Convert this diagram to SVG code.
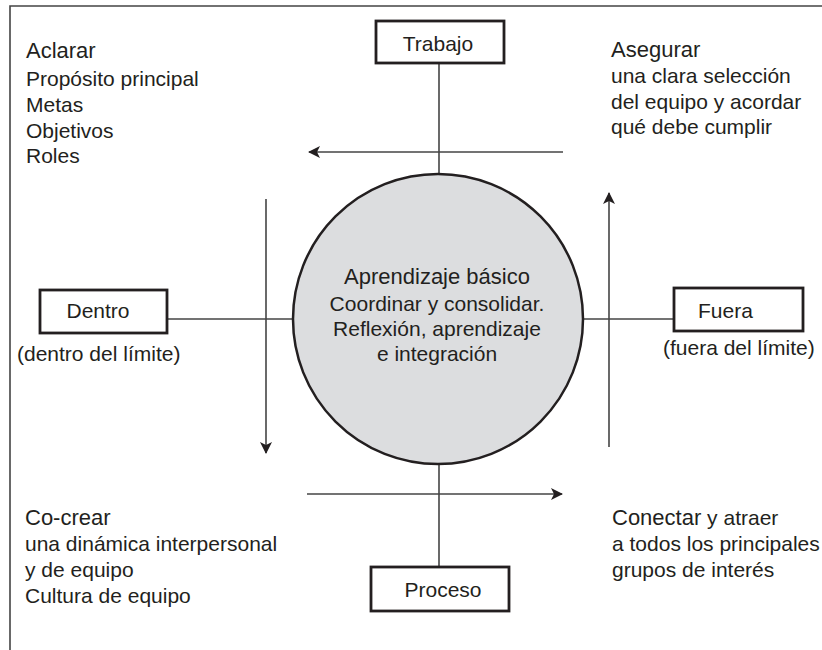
<svg xmlns="http://www.w3.org/2000/svg" width="822" height="650" viewBox="0 0 822 650">
<style>
text{font-family:"Liberation Sans",Arial,sans-serif;fill:#231f20;font-size:21px}
.h{font-size:22px}
.c{text-anchor:middle}
.box{fill:#fff;stroke:#231f20;stroke-width:2.8}
.ln{stroke:#444;stroke-width:1.6;fill:none}
</style>
<defs>
<marker id="ah" viewBox="0 0 12 12" refX="11" refY="6" markerWidth="12" markerHeight="12" markerUnits="userSpaceOnUse" orient="auto">
<path d="M0,0 L12,6 L0,12 L3,6 Z" fill="#231f20"/>
</marker>
</defs>
<g id="frame">
<path class="ln" d="M10,650 V6 H822"/>
</g>
<g id="connectors">
<line class="ln" x1="439" y1="63" x2="439" y2="174"/>
<line class="ln" x1="439" y1="464" x2="439" y2="567"/>
<line class="ln" x1="167" y1="319" x2="293" y2="319"/>
<line class="ln" x1="583" y1="319" x2="674" y2="319"/>
<line class="ln" x1="563" y1="152" x2="309" y2="152" marker-end="url(#ah)"/>
<line class="ln" x1="266" y1="199" x2="266" y2="453" marker-end="url(#ah)"/>
<line class="ln" x1="609" y1="447" x2="609" y2="193" marker-end="url(#ah)"/>
<line class="ln" x1="307" y1="494" x2="562" y2="494" marker-end="url(#ah)"/>
</g>
<g id="core">
<circle cx="438" cy="319" r="145" fill="#dcdddf" stroke="#231f20" stroke-width="2.5"/>
<text class="c h" x="437" y="284">Aprendizaje básico</text>
<text class="c" x="437" y="311">Coordinar y consolidar.</text>
<text class="c" x="437" y="336">Reflexión, aprendizaje</text>
<text class="c" x="437" y="361">e integración</text>
</g>
<g id="trabajo">
<rect class="box" x="376" y="21" width="128" height="42"/>
<text class="c" x="438" y="51">Trabajo</text>
</g>
<g id="proceso">
<rect class="box" x="371" y="567" width="138" height="44"/>
<text class="c" x="443" y="597">Proceso</text>
</g>
<g id="dentro">
<rect class="box" x="40" y="290" width="127" height="43"/>
<text class="c" x="98" y="318">Dentro</text>
<text x="17" y="361">(dentro del límite)</text>
</g>
<g id="fuera">
<rect class="box" x="674" y="288" width="129" height="43"/>
<text x="698" y="318">Fuera</text>
<text x="663" y="355">(fuera del límite)</text>
</g>
<g id="aclarar">
<text class="h" x="26" y="58">Aclarar</text>
<text x="26" y="86">Propósito principal</text>
<text x="26" y="112">Metas</text>
<text x="26" y="138">Objetivos</text>
<text x="26" y="163">Roles</text>
</g>
<g id="asegurar">
<text class="h" x="611" y="57">Asegurar</text>
<text x="611" y="83">una clara selección</text>
<text x="611" y="109">del equipo y acordar</text>
<text x="611" y="134">qué debe cumplir</text>
</g>
<g id="cocrear">
<text class="h" x="25" y="525">Co-crear</text>
<text x="25" y="551">una dinámica interpersonal</text>
<text x="25" y="577">y de equipo</text>
<text x="25" y="603">Cultura de equipo</text>
</g>
<g id="conectar">
<text x="612" y="525"><tspan class="h">Conectar</tspan> y atraer</text>
<text x="612" y="551">a todos los principales</text>
<text x="612" y="577">grupos de interés</text>
</g>
</svg>
